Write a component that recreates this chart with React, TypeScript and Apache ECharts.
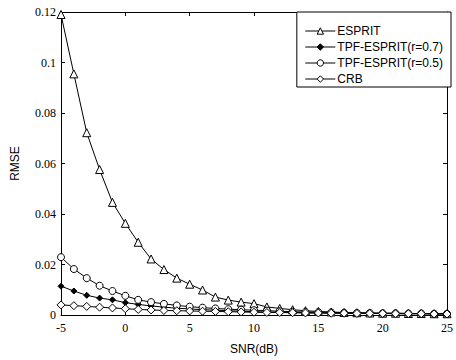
import React, { useEffect, useRef } from "react";
import * as echarts from "echarts";

const snr = [-5,-4,-3,-2,-1,0,1,2,3,4,5,6,7,8,9,10,11,12,13,14,15,16,17,18,19,20,21,22,23,24,25];
const esprit = [0.119,0.0955,0.0722,0.0576,0.0446,0.0363,0.0288,0.0222,0.018,0.0146,0.0122,0.0099,0.0071,0.0059,0.0051,0.0045,0.0032,0.0026,0.0021,0.0017,0.0014,0.0012,0.001,0.0009,0.0008,0.0007,0.0007,0.0006,0.0006,0.0005,0.0005];
const tpf07 = [0.0114,0.0095,0.0078,0.0067,0.006,0.0049,0.0042,0.0036,0.0031,0.0027,0.0024,0.0021,0.0019,0.0017,0.0015,0.0013,0.0012,0.0011,0.001,0.0009,0.0008,0.0008,0.0007,0.0007,0.0006,0.0006,0.0006,0.0005,0.0005,0.0005,0.0005];
const tpf05 = [0.0229,0.0182,0.0146,0.0116,0.0095,0.0076,0.006,0.0051,0.0044,0.0038,0.0033,0.0029,0.0026,0.0023,0.0021,0.0019,0.0017,0.0015,0.0013,0.0012,0.0011,0.001,0.0009,0.0008,0.0008,0.0007,0.0007,0.0006,0.0006,0.0005,0.0005];
const crb = [0.004,0.0037,0.0034,0.0031,0.0028,0.0025,0.0022,0.002,0.0018,0.0017,0.0016,0.0015,0.0014,0.0013,0.0012,0.0011,0.001,0.001,0.0009,0.0008,0.0008,0.0007,0.0007,0.0006,0.0006,0.0006,0.0005,0.0005,0.0005,0.0004,0.0004];
const seriesNames = ["ESPRIT", "TPF-ESPRIT(r=0.7)", "TPF-ESPRIT(r=0.5)", "CRB"];

export default function App() {
  const ref = useRef<HTMLDivElement>(null);
  useEffect(() => {
    const chart = echarts.init(ref.current!, null, { renderer: "svg" });
    const mk = (name: string, vals: number[], symbol: string, size: number, filled: boolean) => ({
      name,
      type: "line",
      data: snr.map((x, i) => [x, vals[i]]),
      symbol,
      symbolSize: size,
      showAllSymbol: true,
      lineStyle: { color: "#000", width: 1 },
      itemStyle: { color: filled ? "#000" : "#fff", borderColor: "#000", borderWidth: 1 },
      emphasis: { disabled: true },
    });
    const serif = "'Liberation Serif', 'DejaVu Serif', serif";
    const sans = "'Liberation Sans', Arial, sans-serif";
    chart.setOption({
      animation: false,
      backgroundColor: "#fff",
      grid: { left: 61, right: 6, top: 12, bottom: 44, show: false },
      legend: {
        show: true,
        data: seriesNames,
        orient: "vertical",
        right: 5,
        top: 12,
        padding: [13, 8, 2, 8],
        itemWidth: 30,
        itemHeight: 8,
        itemGap: 4,
        backgroundColor: "#fff",
        borderColor: "#000",
        borderWidth: 1,
        borderRadius: 0,
        lineStyle: { width: 1 },
        itemStyle: { borderWidth: 1 },
        textStyle: { fontFamily: sans, fontSize: 12, color: "#000", padding: [0, 0, 0, -3] },
      },
      xAxis: [
        {
          type: "value", min: -5, max: 25, interval: 5, position: "bottom",
          name: "SNR(dB)", nameLocation: "middle", nameGap: 28,
          nameTextStyle: { fontFamily: sans, fontSize: 12, color: "#000" },
          axisLine: { onZero: false, lineStyle: { color: "#000", width: 1 } },
          axisTick: { inside: true, length: 4, lineStyle: { color: "#000" } },
          axisLabel: { fontFamily: serif, fontSize: 12, color: "#000", margin: 7 },
          splitLine: { show: false },
        },
        {
          type: "value", min: -5, max: 25, interval: 5, position: "top",
          axisLine: { onZero: false, lineStyle: { color: "#000", width: 1 } },
          axisTick: { inside: true, length: 4, lineStyle: { color: "#000" } },
          axisLabel: { show: false },
          splitLine: { show: false },
        },
      ],
      yAxis: [
        {
          type: "value", min: 0, max: 0.12, interval: 0.02, position: "left",
          name: "RMSE", nameLocation: "middle", nameGap: 40,
          nameTextStyle: { fontFamily: sans, fontSize: 12, color: "#000" },
          axisLine: { show: true, onZero: false, lineStyle: { color: "#000", width: 1 } },
          axisTick: { show: true, inside: true, length: 4, lineStyle: { color: "#000" } },
          axisLabel: { fontFamily: serif, fontSize: 12, color: "#000", margin: 5 },
          splitLine: { show: false },
        },
        {
          type: "value", min: 0, max: 0.12, interval: 0.02, position: "right",
          axisLine: { show: true, onZero: false, lineStyle: { color: "#000", width: 1 } },
          axisTick: { show: true, inside: true, length: 4, lineStyle: { color: "#000" } },
          axisLabel: { show: false },
          splitLine: { show: false },
        },
      ],
      series: [
        mk(seriesNames[0], esprit, "triangle", 8, false),
        mk(seriesNames[1], tpf07, "diamond", 6, true),
        mk(seriesNames[2], tpf05, "circle", 7, false),
        mk(seriesNames[3], crb, "diamond", 8, false),
      ],
    });
    return () => chart.dispose();
  }, []);
  return <div ref={ref} style={{ width: 456, height: 360, position: "absolute", left: 0, top: 0 }} />;
}
